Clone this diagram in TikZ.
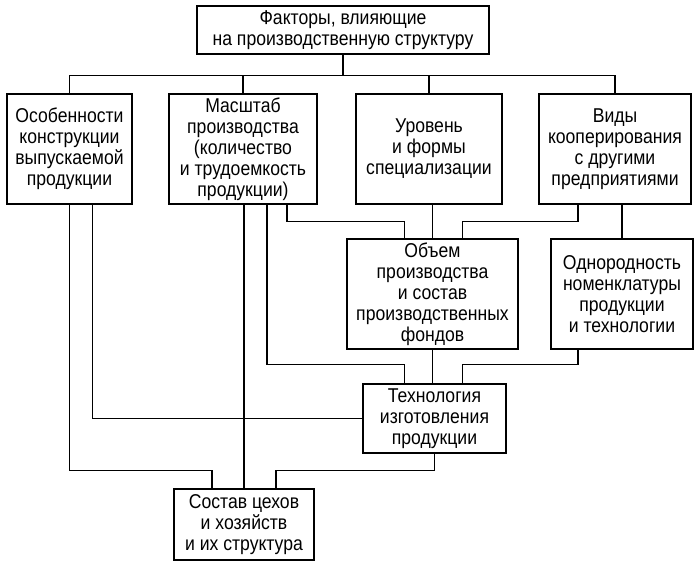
\documentclass[tikz,border=0pt]{standalone}
\usepackage{fontspec}
\setmainfont{Liberation Sans}[FakeStretch=0.88]
\usepackage{tikz}

\begin{document}
\begin{tikzpicture}[x=0.5pt, y=-0.5pt,
	box/.style={draw, line width=0.7pt, align=center, inner sep=1pt,
		font=\fontsize{10}{10.5}\selectfont},
	link/.style={line width=0.65pt}]
	\useasboundingbox (0,0) rectangle (700,568);
% draw boxes
	\node[box, minimum width=146pt, minimum height=24pt] (top) at (343,30) {Факторы, влияющие\\на производственную структуру};
	\node[box, minimum width=62.5pt, minimum height=55pt] (b1) at (69.5,149) {Особенности\\конструкции\\выпускаемой\\продукции};
	\node[box, minimum width=74pt, minimum height=55pt] (b2) at (243,149) {Масштаб\\производства\\(количество\\и трудоемкость\\продукции)};
	\node[box, minimum width=73pt, minimum height=55pt] (b3) at (429,149) {Уровень\\и формы\\специализации};
	\node[box, minimum width=76pt, minimum height=55pt] (b4) at (615,149) {Виды\\кооперирования\\с другими\\предприятиями};
	\node[box, minimum width=85.5pt, minimum height=55pt] (vol) at (432.5,294) {Объем\\производства\\и состав\\производственных\\фондов};
	\node[box, minimum width=71pt, minimum height=55pt] (hom) at (622,294) {Однородность\\номенклатуры\\продукции\\и технологии};
	\node[box, minimum width=71.5pt, minimum height=34.5pt] (tech) at (434.5,418.5) {Технология\\изготовления\\продукции};
	\node[box, minimum width=70pt, minimum height=35.5pt] (comp) at (244,524.5) {Состав цехов\\и хозяйств\\и их структура};
% draw branch from the top box
	\draw[link] (top.south) -- ++(0,21) coordinate (hub);
	\draw[link] (b1.north) |- (hub) -| (b4.north);
	\foreach \n in {b2,b3}
		\draw[link] (\n.north) -- (\n.north |- hub);
% draw links into the second row
	\draw[link] ([xshift=22pt]b2.south) -- ++(0,17) -| ([xshift=-14pt]vol.north);
	\draw[link] (vol.north) -- (vol.north |- b3.south);
	\draw[link] ([xshift=-18.5pt]b4.south) -- ++(0,17) -| ([xshift=15pt]vol.north);
	\draw[link] (hom.north) -- (hom.north |- b4.south);
% draw links into technology
	\draw[link] ([xshift=12pt]b2.south) -- ++(0,160) -| ([xshift=-15pt]tech.north);
	\draw[link] (vol.south) -- (vol.south |- tech.north);
	\draw[link] ([xshift=-22pt]hom.south) -- ++(0,15) -| ([xshift=14pt]tech.north);
	\draw[link] ([xshift=11.5pt]b1.south) |- (tech.west);
% draw links into the bottom box
	\draw[link] (b1.south) -- ++(0,266) -| ([xshift=-16pt]comp.north);
	\draw[link] (comp.north) -- (comp.north |- b2.south);
	\draw[link] (tech.south) -- ++(0,17) -| ([xshift=16pt]comp.north);
\end{tikzpicture}
\end{document}
